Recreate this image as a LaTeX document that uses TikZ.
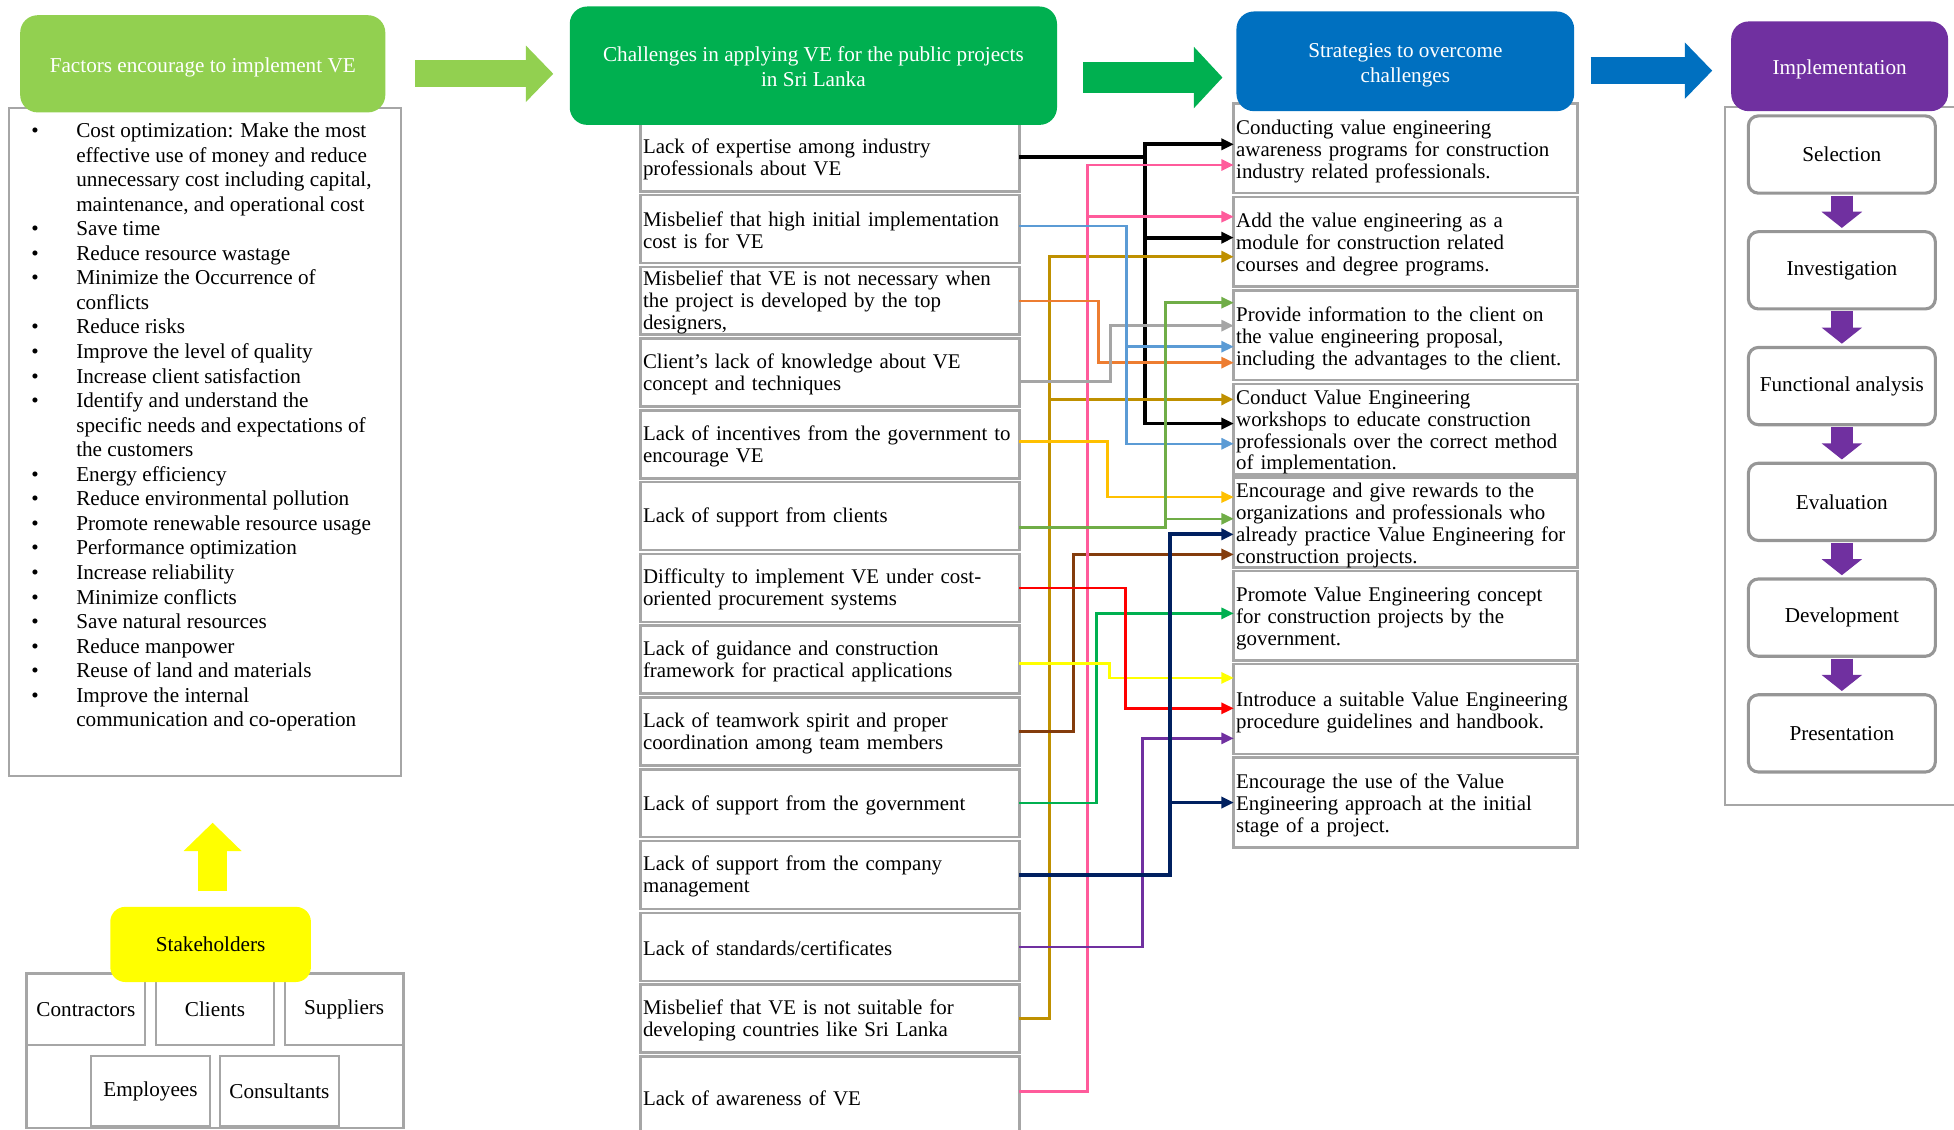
\documentclass[tikz,border=0pt]{standalone}
\usepackage{fontspec}
\setmainfont{Liberation Serif}
\usetikzlibrary{arrows.meta}

\definecolor{limehead}{HTML}{92D050}
\definecolor{greenhead}{HTML}{00B050}
\definecolor{bluehead}{HTML}{0070C0}
\definecolor{purplehead}{HTML}{7030A0}
\definecolor{boxgray}{HTML}{A6A6A6}
\definecolor{stepgray}{HTML}{969696}
\definecolor{lnpink}{HTML}{FF5B9B}
\definecolor{lnblue}{HTML}{5B9BD5}
\definecolor{lngold}{HTML}{BF9000}
\definecolor{lnorange}{HTML}{ED7D31}
\definecolor{lngray}{HTML}{A5A5A5}
\definecolor{lnlime}{HTML}{70AD47}
\definecolor{lnamber}{HTML}{FFC000}
\definecolor{lnnavy}{HTML}{002060}
\definecolor{lnbrown}{HTML}{843C0C}
\definecolor{lnyellow}{HTML}{FFFF00}

\newcommand{\bul}{\makebox[36pt][l]{\textbullet}}
\newcommand{\cont}{\hspace*{36pt}}

\tikzset{
  head/.style={rounded corners=14pt, text=white, align=center, anchor=north west,
    inner sep=0pt, font=\fontsize{17}{20}\selectfont, execute at begin node={\rule{0pt}{17pt}}},
  chal/.style={draw=boxgray, line width=2pt, anchor=north west, outer sep=0pt,
    minimum width=304pt, minimum height=54.5pt, text width=300pt, inner xsep=2pt,
    inner ysep=0pt, align=left, font=\fontsize{16.75}{17.8}\selectfont,
    execute at begin node={\rule{0pt}{14.5pt}}},
  strat/.style={chal, minimum width=276pt, minimum height=72pt, text width=272pt,
    inner xsep=2pt, font=\fontsize{16.75}{17.5}\selectfont,
    execute at begin node={\rule{0pt}{16.5pt}}},
  stepbox/.style={draw=stepgray, line width=2.5pt, rounded corners=8pt, anchor=north west,
    outer sep=0pt, minimum width=150pt, minimum height=62pt, font=\fontsize{17}{20}\selectfont},
  grpbox/.style={draw=boxgray, line width=1.5pt, anchor=north west, outer sep=0pt},
  who/.style={draw=boxgray, line width=2pt, anchor=north west, outer sep=0pt,
    minimum width=95pt, minimum height=57.6pt, font=\fontsize{17}{20}\selectfont},
  wire/.style={line width=2pt, -{Triangle[length=10pt,width=9pt]}},
  bigarrow/.style={line width=22pt, -{Triangle[length=22pt,width=44pt]}},
  steparrow/.style={purplehead, line width=18pt, -{Triangle[length=13pt,width=32pt]}}
}

\begin{document}
\begin{tikzpicture}[x=1pt,y=-1pt]
  \useasboundingbox (0,0) rectangle (1568,906);

  % factors
  \node[grpbox, minimum width=315pt, minimum height=536pt] (facbox) at (7,87) {};
  \node[anchor=north west, inner sep=0pt, align=left, font=\fontsize{17}{19.7}\selectfont] (faclist) at (25,98.4) {%
    \bul Cost optimization: Make the most\\
    \cont effective use of money and reduce\\
    \cont unnecessary cost including capital,\\
    \cont maintenance, and operational cost\\
    \bul Save time\\
    \bul Reduce resource wastage\\
    \bul Minimize the Occurrence of\\
    \cont conflicts\\
    \bul Reduce risks\\
    \bul Improve the level of quality\\
    \bul Increase client satisfaction\\
    \bul Identify and understand the\\
    \cont specific needs and expectations of\\
    \cont the customers\\
    \bul Energy efficiency\\
    \bul Reduce environmental pollution\\
    \bul Promote renewable resource usage\\
    \bul Performance optimization\\
    \bul Increase reliability\\
    \bul Minimize conflicts\\
    \bul Save natural resources\\
    \bul Reduce manpower\\
    \bul Reuse of land and materials\\
    \bul Improve the internal\\
    \cont communication and co-operation};
  \node[head, fill=limehead, minimum width=293pt, minimum height=78pt] (fac) at (16,12) {Factors encourage to implement VE};

  % stakeholders
  \node[grpbox, line width=2pt, minimum width=302.3pt, minimum height=124pt] (whobox) at (21.4,781) {};
  \node[who] (contr) at (21.4,781) {Contractors};
  \node[who] (clie) at (125,781) {Clients};
  \node[who] (supp) at (228.7,781) {Suppliers};
  \node[who, minimum width=95.5pt, minimum height=56.6pt] (empl) at (73,847.4) {Employees};
  \node[who, minimum width=95.5pt, minimum height=56.6pt] (cons) at (176.5,847.4) {Consultants};
  \node[anchor=north west, fill=lnyellow, rounded corners=12pt, inner sep=0pt, minimum width=161pt,
    minimum height=60.3pt, font=\fontsize{17}{20}\selectfont] (stk) at (88.3,727.5) {Stakeholders};
  \draw[lnyellow, line width=22.7pt, -{Triangle[length=22.7pt,width=45.2pt]}]
    ([xshift=1.6pt,yshift=12.5pt]stk.north) -- ([xshift=1.6pt,yshift=67.3pt]stk.north);

  % challenges
  \node[chal] (c1) at (514,99) {Lack of expertise among industry\\professionals about VE};
  \node[chal] (c2) at (514,156.5) {Misbelief that high initial implementation\\cost is for VE};
  \node[chal] (c3) at (514,214.1) {Misbelief that VE is not necessary when\\the project is developed by the top\\designers,};
  \node[chal] (c4) at (514,271.7) {Client’s lack of knowledge about VE\\concept and techniques};
  \node[chal] (c5) at (514,329.3) {Lack of incentives from the government to\\encourage VE};
  \node[chal] (c6) at (514,386.9) {Lack of support from clients};
  \node[chal] (c7) at (514,444.5) {Difficulty to implement VE under cost-\\oriented procurement systems};
  \node[chal] (c8) at (514,502.1) {Lack of guidance and construction\\framework for practical applications};
  \node[chal] (c9) at (514,559.7) {Lack of teamwork spirit and proper\\coordination among team members};
  \node[chal] (c10) at (514,617.3) {Lack of support from the government};
  \node[chal] (c11) at (514,674.9) {Lack of support from the company\\management};
  \node[chal] (c12) at (514,732.5) {Lack of standards/certificates};
  \node[chal] (c13) at (514,790.1) {Misbelief that VE is not suitable for\\developing countries like Sri Lanka};
  \node[chal, minimum height=64.6pt] (c14) at (514,847.7) {Lack of awareness of VE};
  \node[head, fill=greenhead, minimum width=391pt, minimum height=95pt] (chal) at (457,5)
    {\rule{0pt}{14pt}Challenges in applying VE for the public projects\\in Sri Lanka};

  % strategies
  \node[strat] (s1) at (990,83) {Conducting value engineering\\awareness programs for construction\\industry related professionals.};
  \node[strat] (s2) at (990,158) {Add the value engineering as a\\module for construction related\\courses and degree programs.};
  \node[strat] (s3) at (990,233) {Provide information to the client on\\the value engineering proposal,\\including the advantages to the client.};
  \node[strat] (s4) at (990,308) {Conduct Value Engineering\\workshops to educate construction\\professionals over the correct method\\of implementation.};
  \node[strat] (s5) at (990,383) {Encourage and give rewards to the\\organizations and professionals who\\already practice Value Engineering for\\construction projects.};
  \node[strat] (s6) at (990,458) {Promote Value Engineering concept\\for construction projects by the\\government.};
  \node[strat] (s7) at (990,533) {Introduce a suitable Value Engineering\\procedure guidelines and handbook.};
  \node[strat] (s8) at (990,608) {Encourage the use of the Value\\Engineering approach at the initial\\stage of a project.};
  \node[head, fill=bluehead, minimum width=271pt, minimum height=80pt] (strat) at (992,9)
    {\rule{0pt}{17pt}Strategies to overcome\\challenges};

  % implementation
  \node[grpbox, minimum width=200pt, minimum height=560pt] (impbox) at (1384,86) {};
  \node[stepbox] (st1) at (1403,93) {Selection};
  \node[stepbox] (st2) at (1403,185.9) {Investigation};
  \node[stepbox] (st3) at (1403,278.8) {Functional analysis};
  \node[stepbox] (st4) at (1403,371.7) {Evaluation};
  \node[stepbox] (st5) at (1403,464.6) {Development};
  \node[stepbox] (st6) at (1403,557.5) {Presentation};
  \node[head, fill=purplehead, minimum width=174pt, minimum height=72pt] (imp) at (1389,17) {Implementation};
  \begin{scope}[steparrow]
    \draw ([yshift=-2pt]st1.south) -- ([yshift=3pt]st2.north);
    \draw ([yshift=-2pt]st2.south) -- ([yshift=3pt]st3.north);
    \draw ([yshift=-2pt]st3.south) -- ([yshift=3pt]st4.north);
    \draw ([yshift=-2pt]st4.south) -- ([yshift=3pt]st5.north);
    \draw ([yshift=-2pt]st5.south) -- ([yshift=3pt]st6.north);
  \end{scope}

  % block arrows between the headers
  \draw[bigarrow, limehead] ([xshift=24pt,yshift=-8pt]fac.east) -- ([xshift=-13pt,yshift=-6.5pt]chal.west);
  \draw[bigarrow, greenhead, line width=25pt, -{Triangle[length=23pt,width=48pt]}]
    ([xshift=21pt,yshift=-9.5pt]chal.east) -- ([xshift=-11pt,yshift=-13pt]strat.west);
  \draw[bigarrow, bluehead] ([xshift=13pt,yshift=-7.5pt]strat.east) -- ([xshift=-15pt,yshift=-3.5pt]imp.west);

  % arrow ends on the strategies
  \coordinate (s1a) at ([yshift=3.2pt]s1.west);
  \coordinate (s1b) at ([yshift=-13.4pt]s1.west);
  \coordinate (s2a) at ([yshift=20.1pt]s2.west);
  \coordinate (s2b) at ([yshift=3.3pt]s2.west);
  \coordinate (s2c) at ([yshift=-12pt]s2.west);
  \coordinate (s3a) at ([yshift=26.1pt]s3.west);
  \coordinate (s3b) at ([yshift=7.7pt]s3.west);
  \coordinate (s3c) at ([yshift=-9.2pt]s3.west);
  \coordinate (s3d) at ([yshift=-22pt]s3.west);
  \coordinate (s4a) at ([yshift=23.8pt]s4.west);
  \coordinate (s4b) at ([yshift=4.4pt]s4.west);
  \coordinate (s4c) at ([yshift=-11.8pt]s4.west);
  \coordinate (s5a) at ([yshift=20.4pt]s5.west);
  \coordinate (s5b) at ([yshift=3pt]s5.west);
  \coordinate (s5c) at ([yshift=-9.5pt]s5.west);
  \coordinate (s5d) at ([yshift=-25.6pt]s5.west);
  \coordinate (s6a) at ([yshift=1.8pt]s6.west);
  \coordinate (s7a) at ([yshift=25pt]s7.west);
  \coordinate (s7b) at ([yshift=0.6pt]s7.west);
  \coordinate (s7c) at ([yshift=-23.5pt]s7.west);
  \coordinate (s8a) at (s8.west);

  % challenge -> strategy links
  \draw[wire, line width=3pt] (c1.east) -| ([xshift=-71.2pt]s1a) -- (s1a);
  \draw[wire, line width=3pt] ([xshift=-71.2pt]s1a) |- (s4b);
  \draw[wire, line width=3pt] ([xshift=-71.2pt]s2b) -- (s2b);
  \draw[wire, lngold, line width=2.5pt] (c13.east) -| ([xshift=-148pt]s2c) -- (s2c);
  \draw[wire, lngold, line width=2.5pt] ([xshift=-148pt]s4a) -- (s4a);
  \draw[wire, lnbrown] (c9.east) -| ([xshift=-128.7pt]s5d) -- (s5d);
  \draw[wire, lnpink] ([yshift=4pt]c14.east) -| ([xshift=-117.4pt]s1b) -- (s1b);
  \draw[wire, lnpink] ([xshift=-117.4pt]s2a) -- (s2a);
  \draw[wire, greenhead] (c10.east) -| ([xshift=-110pt]s6a) -- (s6a);
  \draw[wire, lnorange] (c3.east) -| ([xshift=-108.6pt]s3d) -- (s3d);
  \draw[wire, lnamber] ([yshift=2.2pt]c5.east) -| ([xshift=-101.4pt]s5a) -- (s5a);
  \draw[wire, lnyellow] ([yshift=-2.9pt]c8.east) -| ([xshift=-99.8pt]s7a) -- (s7a);
  \draw[wire, lngray] ([yshift=-7.3pt]c4.east) -| ([xshift=-98.7pt]s3b) -- (s3b);
  \draw[wire, red] (c7.east) -| ([xshift=-86.7pt]s7b) -- (s7b);
  \draw[wire, lnblue] ([yshift=2.6pt]c2.east) -| ([xshift=-85.9pt]s4c) -- (s4c);
  \draw[wire, lnblue] ([xshift=-85.9pt]s3c) -- (s3c);
  \draw[wire, purplehead] (c12.east) -| ([xshift=-73.1pt]s7c) -- (s7c);
  \draw[wire, lnlime] ([yshift=-9.2pt]c6.east) -| ([xshift=-54.6pt]s3a) -- (s3a);
  \draw[wire, lnlime] ([xshift=-54.6pt]s5b) -- (s5b);
  \draw[wire, lnnavy, line width=3pt] (c11.east) -| ([xshift=-51.1pt]s5c) -- (s5c);
  \draw[wire, lnnavy, line width=3pt] ([xshift=-51.1pt]s8a) -- (s8a);
\end{tikzpicture}
\end{document}
